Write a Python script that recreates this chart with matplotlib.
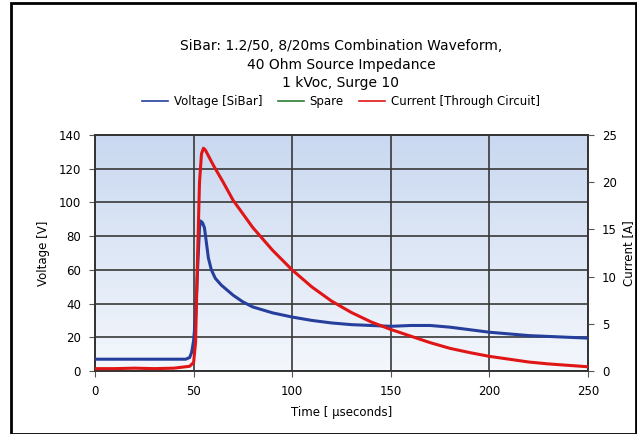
import numpy as np
import matplotlib
matplotlib.use("Agg")
import matplotlib.pyplot as plt
from matplotlib.patches import Rectangle
from matplotlib.lines import Line2D

# values
time_v = [0, 10, 20, 30, 40, 46, 48, 49, 50, 51, 52, 53, 53.5, 54.5, 55.5, 56.5,
          57.5, 59, 61, 64, 67, 70, 75, 80, 90, 100, 110, 120, 130, 140, 150,
          160, 170, 180, 190, 200, 210, 220, 230, 240, 250]
voltage = [7, 7, 7, 7, 7, 7, 8, 11, 18, 32, 60, 85, 89, 88, 85, 76,
           67, 60, 55, 51, 48, 45, 41, 38, 34.5, 32, 30, 28.5, 27.5, 27, 26.5,
           27, 27, 26, 24.5, 23, 22, 21, 20.5, 20, 19.5]

time_i = [0, 10, 20, 30, 40, 48, 50, 51, 52, 53, 54, 55, 56, 58, 60, 65, 70,
          80, 90, 100, 110, 120, 130, 140, 150, 160, 170, 180, 190, 200, 210,
          220, 230, 240, 250]
current = [0.25, 0.25, 0.3, 0.25, 0.3, 0.5, 0.9, 3, 12, 20, 23, 23.6, 23.4,
           22.6, 21.8, 20, 18.1, 15.2, 12.8, 10.7, 8.9, 7.4, 6.2, 5.2, 4.4,
           3.7, 3.0, 2.4, 1.95, 1.55, 1.25, 0.95, 0.75, 0.6, 0.45]

x_ticks = [0, 50, 100, 150, 200, 250]
v_ticks = [0, 20, 40, 60, 80, 100, 120, 140]
i_ticks = [0, 5, 10, 15, 20, 25]

blue = '#263f9c'
red = '#e01515'
green = '#2e7d32'

plt.rcParams['font.family'] = ['DejaVu Sans']

fig = plt.figure(figsize=(6.37, 4.34), dpi=100)
ax = fig.add_axes([95/637, 63/434, 493/637, 236/434])

# light blue gradient behind the plot
grad = np.linspace(0, 1, 256).reshape(-1, 1)
cmap = matplotlib.colors.LinearSegmentedColormap.from_list('bg', ['#f4f7fc', '#c9d8f0'])
ax.imshow(grad, aspect='auto', cmap=cmap, origin='lower',
          extent=[0, 1, 0, 1], transform=ax.transAxes, zorder=0)

ax.plot(time_v, voltage, color=blue, lw=2.2, zorder=3)
ax.set_xlim(0, 250)
ax.set_ylim(0, 140)
ax.set_xticks(x_ticks)
ax.set_yticks(v_ticks)
ax.grid(True, color='#383838', lw=1.2, zorder=1)
ax.set_axisbelow(True)
ax.tick_params(labelsize=8.5, color='#555555', length=4, pad=6)
ax.set_xlabel('Time [ µseconds]', fontsize=8.5, labelpad=6)
ax.set_ylabel('Voltage [V]', fontsize=8.5, labelpad=6)
for s in ax.spines.values():
    s.set_color('#333333')
    s.set_linewidth(1.4)

ax2 = ax.twinx()
ax2.plot(time_i, current, color=red, lw=2.2, zorder=3)
ax2.set_ylim(0, 25)
ax2.set_yticks(i_ticks)
ax2.tick_params(labelsize=8.5, color='#555555', length=4, pad=6)
ax2.set_ylabel('Current [A]', fontsize=8.5, labelpad=4)
for s in ax2.spines.values():
    s.set_visible(False)

fig.text(341/637, 1 - 46/434, 'SiBar: 1.2/50, 8/20ms Combination Waveform,',
         ha='center', va='center', fontsize=10)
fig.text(341/637, 1 - 64.5/434, '40 Ohm Source Impedance',
         ha='center', va='center', fontsize=10)
fig.text(341/637, 1 - 83/434, '1 kVoc, Surge 10',
         ha='center', va='center', fontsize=10)

handles = [Line2D([], [], color=blue, lw=1.2),
           Line2D([], [], color=green, lw=1.2),
           Line2D([], [], color=red, lw=1.2)]
fig.legend(handles, ['Voltage [SiBar]', 'Spare', 'Current [Through Circuit]'],
           loc='center', bbox_to_anchor=(341/637, 1 - 102/434), ncol=3,
           frameon=False, fontsize=8.5, handlelength=2.2, columnspacing=1.3,
           handletextpad=0.5)

# black frame round the whole picture
fig.patches.append(Rectangle((11/637, 0.5/434), 625/637, 431/434,
                             transform=fig.transFigure, fill=False,
                             edgecolor='black', lw=2))

fig.savefig('out.png', dpi=100)
